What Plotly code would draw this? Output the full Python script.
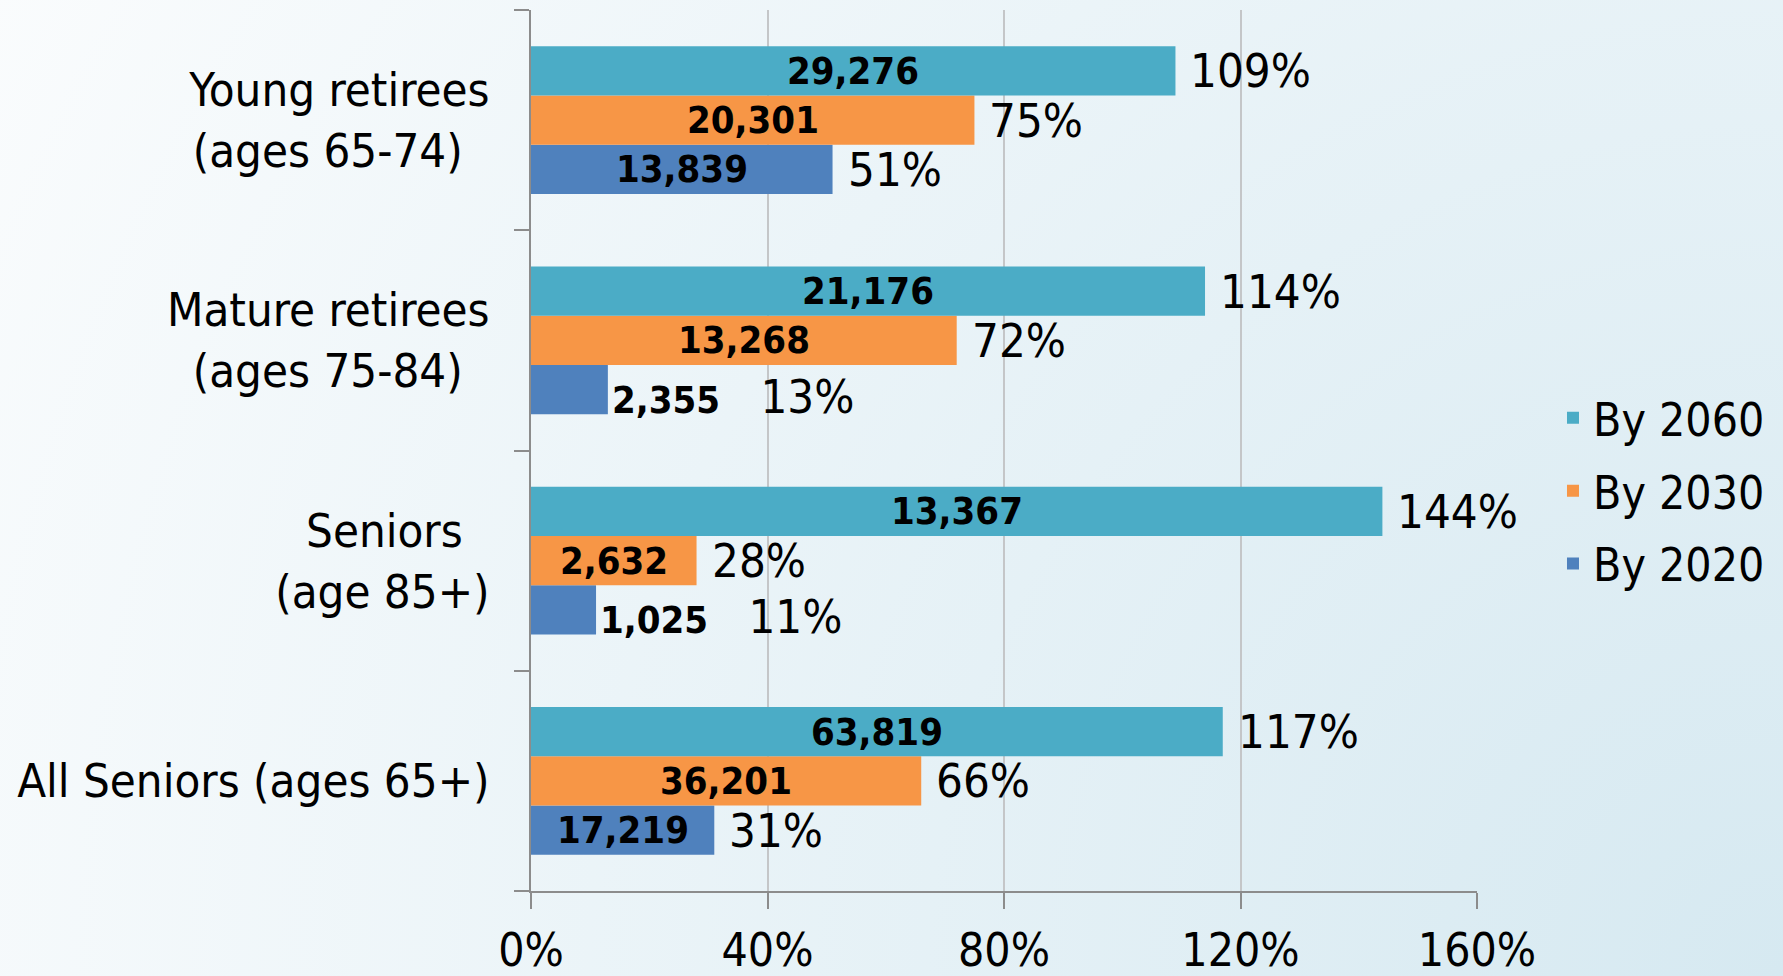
import base64
import plotly.graph_objects as go

# ---------------- data ----------------
categories = ["All Seniors (ages 65+)", "Seniors (age 85+)",
              "Mature retirees (ages 75-84)", "Young retirees (ages 65-74)"]
tick_labels = ["All Seniors (ages 65+)",
               "Seniors\u00a0\u00a0<br>(age 85+)",
               "Mature retirees<br>(ages 75-84)\u00a0\u00a0",
               "Young retirees<br>(ages 65-74)\u00a0\u00a0"]
series_names = ["By 2020", "By 2030", "By 2060"]
pct_2020 = [31, 11, 13, 51]
pct_2030 = [66, 28, 72, 75]
pct_2060 = [117, 144, 114, 109]
num_2020 = [17219, 1025, 2355, 13839]
num_2030 = [36201, 2632, 13268, 20301]
num_2060 = [63819, 13367, 21176, 29276]
x_ticks = [0, 40, 80, 120, 160]

# ---------------- styles ----------------
colors = ["#4F81BD", "#F79646", "#4BACC6"]
W, H = 1783, 976
M = dict(l=531, r=306, t=10, b=85)
BARGAP = 0.33
CAT_FONT = "DejaVu Sans Condensed, DejaVu Sans, sans-serif"
NUM_FONT = "DejaVu Sans Condensed, DejaVu Sans, sans-serif"

pcts = [pct_2020, pct_2030, pct_2060]
nums = [num_2020, num_2030, num_2060]

fig = go.Figure()
for s in range(3):
    fig.add_trace(go.Bar(
        y=categories, x=pcts[s], orientation="h", name=series_names[s],
        marker=dict(color=colors[s], line=dict(width=0)),
        legendgroup=series_names[s], legendrank=3 - s, hoverinfo="x+y",
    ))

# labels
bw = (1 - BARGAP) / 3
annotations = []
for s in range(3):
    for i, cat in enumerate(categories):
        yc = i + (s - 1) * bw
        v = pcts[s][i]
        ntxt = f"{nums[s][i]:,}"
        if v >= 20:
            annotations.append(dict(
                x=v / 2, y=yc, xref="x", yref="y", text=f"<b>{ntxt}</b>",
                showarrow=False, xanchor="center", yanchor="middle",
                borderpad=0,
                font=dict(family=NUM_FONT, size=38, color="black")))
            annotations.append(dict(
                x=v, y=yc, xref="x", yref="y", text=f"{v}%",
                showarrow=False, xanchor="left", yanchor="middle", xshift=14,
                borderpad=0,
                font=dict(family=NUM_FONT, size=47, color="black")))
        else:
            annotations.append(dict(
                x=v, y=yc, xref="x", yref="y",
                text=f"<span style='font-size:38px'><b>{ntxt}</b></span>"
                     + "\u00a0" * 3 + f"{v}%",
                showarrow=False, xanchor="left", yanchor="middle",
                xshift=3, yshift=-7, borderpad=0,
                font=dict(family=NUM_FONT, size=47, color="black")))

# background gradient (radial from bottom-right)
svg = f"""<svg xmlns='http://www.w3.org/2000/svg' width='{W}' height='{H}' viewBox='0 0 {W} {H}' preserveAspectRatio='none'>
<defs><radialGradient id='g' gradientUnits='userSpaceOnUse' cx='{W}' cy='{H}' r='2050'>
<stop offset='0' stop-color='#d6e9f1'/><stop offset='1' stop-color='#fafcfd'/></radialGradient></defs>
<rect width='{W}' height='{H}' fill='url(#g)'/></svg>"""
src = "data:image/svg+xml;base64," + base64.b64encode(svg.encode()).decode()
pw = W - M["l"] - M["r"]
ph = H - M["t"] - M["b"]

fig.update_layout(
    width=W, height=H, margin=dict(**M, autoexpand=False),
    barmode="group", bargap=BARGAP, bargroupgap=0,
    paper_bgcolor="#eef5f8", plot_bgcolor="rgba(0,0,0,0)",
    images=[dict(source=src, xref="paper", yref="paper",
                 x=-M["l"] / pw, y=1 + M["t"] / ph,
                 sizex=W / pw, sizey=H / ph, sizing="stretch",
                 xanchor="left", yanchor="top", layer="below")],
    annotations=annotations,
    legend=dict(traceorder="grouped", tracegroupgap=10,
                xref="container", yref="container",
                x=0.871, y=0.497, xanchor="left", yanchor="middle",
                bgcolor="rgba(0,0,0,0)",
                font=dict(family=CAT_FONT, size=46, color="black")),
    showlegend=True,
    font=dict(family=CAT_FONT, color="black"),
)
fig.update_xaxes(range=[0, 160], tickvals=x_ticks,
                 ticktext=[f"{t}%" for t in x_ticks],
                 showgrid=True, gridcolor="#c4c6c8", gridwidth=1.5,
                 showline=True, linecolor="#8c8c8c", linewidth=2,
                 ticks="outside", ticklen=16, tickcolor="#8c8c8c", tickwidth=1.5,
                 ticklabelstandoff=2, zeroline=False, automargin=False,
                 tickfont=dict(family=NUM_FONT, size=46, color="black"))
fig.update_yaxes(type="category", categoryorder="array", categoryarray=categories,
                 tickvals=categories, ticktext=tick_labels,
                 tickson="boundaries", ticks="outside", ticklen=15,
                 tickcolor="#8c8c8c", tickwidth=1.5,
                 showline=True, linecolor="#8c8c8c", linewidth=2,
                 showgrid=False, ticklabelstandoff=30, automargin=False,
                 tickfont=dict(family=CAT_FONT, size=47, color="black"))

fig.write_html("out.html", config={"displayModeBar": False},
               post_script="document.body.style.margin='0';"
                           "document.body.style.overflow='hidden';")
